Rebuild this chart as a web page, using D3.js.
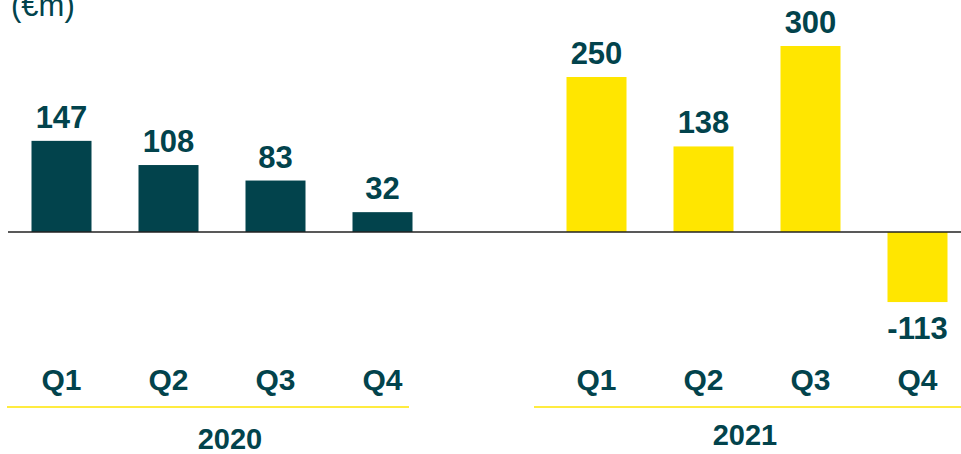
<!DOCTYPE html>
<html>
<head>
<meta charset="utf-8">
<script src="https://cdn.jsdelivr.net/npm/d3@7"></script>
<style>
    body { margin: 0; background: #fff; }
    svg { display: block; font-family: "Liberation Sans", Arial, sans-serif; }
</style>
</head>
<body>
<div id="chart"></div>
<script>
// datos del gráfico
const years = ["2020", "2021"];
const quarters = ["Q1", "Q2", "Q3", "Q4"];
const values2020 = [147, 108, 83, 32];
const values2021 = [250, 138, 300, -113];
const unitLabel = "(€m)";

const width = 961;
const height = 454;
const darkColor = "#02434C";
const yellowColor = "#FFE600";

const data = [];
quarters.forEach((q, i) => data.push({ key: "2020-" + q, year: "2020", quarter: q, value: values2020[i] }));
quarters.forEach((q, i) => data.push({ key: "2021-" + q, year: "2021", quarter: q, value: values2021[i] }));

// hueco entre los dos años
const domain = data.slice(0, 4).map(d => d.key).concat(["gap"], data.slice(4).map(d => d.key));

const x = d3.scaleBand()
            .domain(domain)
            .range([8, 8 + 9 * 107])
            .paddingInner(47 / 107)
            .paddingOuter(47 / 214);

const y = d3.scaleLinear()
            .domain([-150, 350])
            .range([325, 15]);

const svg = d3.select('#chart')
              .append('svg')
              .attr('width', width)
              .attr('height', height);

svg.append('text')
   .attr('x', 11)
   .attr('y', 16)
   .attr('font-size', '31px')
   .attr('fill', darkColor)
   .text(unitLabel);

svg.selectAll('rect.bar')
   .data(data)
   .enter()
   .append('rect')
   .attr('class', 'bar')
   .attr('x', d => x(d.key))
   .attr('width', x.bandwidth())
   .attr('y', d => y(Math.max(0, d.value)))
   .attr('height', d => Math.abs(y(d.value) - y(0)))
   .attr('fill', d => d.year === "2020" ? darkColor : yellowColor);

// línea base
svg.append('line')
   .attr('x1', 8)
   .attr('x2', width)
   .attr('y1', y(0))
   .attr('y2', y(0))
   .attr('stroke', '#222')
   .attr('stroke-width', 1.5);

// etiquetas de valores
svg.selectAll('text.value')
   .data(data)
   .enter()
   .append('text')
   .attr('class', 'value')
   .attr('x', d => x(d.key) + x.bandwidth() / 2)
   .attr('y', d => d.value >= 0 ? y(d.value) - 13 : y(d.value) + 37)
   .attr('text-anchor', 'middle')
   .attr('font-size', '31px')
   .attr('font-weight', 'bold')
   .attr('fill', darkColor)
   .text(d => d.value);

// trimestres
svg.selectAll('text.quarter')
   .data(data)
   .enter()
   .append('text')
   .attr('class', 'quarter')
   .attr('x', d => x(d.key) + x.bandwidth() / 2)
   .attr('y', 390)
   .attr('text-anchor', 'middle')
   .attr('font-size', '30px')
   .attr('font-weight', 'bold')
   .attr('fill', darkColor)
   .text(d => d.quarter);

// años
const yearGroups = [
    { year: years[0], x1: 7, x2: 409, labelY: 449 },
    { year: years[1], x1: 534, x2: width, labelY: 445 }
];

yearGroups.forEach(g => {
    const keys = data.filter(d => d.year === g.year).map(d => d.key);
    const cx = (x(keys[0]) + x(keys[keys.length - 1]) + x.bandwidth()) / 2;

    svg.append('line')
       .attr('x1', g.x1)
       .attr('x2', g.x2)
       .attr('y1', 407)
       .attr('y2', 407)
       .attr('stroke', yellowColor)
       .attr('stroke-width', 1.5);

    svg.append('text')
       .attr('x', g.year === "2020" ? 230 : cx - 12)
       .attr('y', g.labelY)
       .attr('text-anchor', 'middle')
       .attr('font-size', '29px')
       .attr('font-weight', 'bold')
       .attr('fill', darkColor)
       .text(g.year);
});
</script>
</body>
</html>
